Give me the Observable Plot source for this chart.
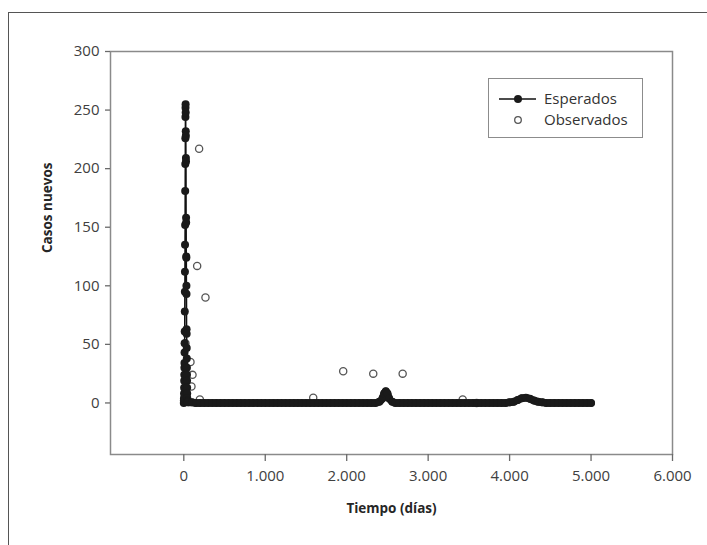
<!DOCTYPE html>
<html>
<head>
<meta charset="utf-8">
<script src="https://cdn.jsdelivr.net/npm/d3@7"></script>
<script src="https://cdn.jsdelivr.net/npm/@observablehq/plot@0.6"></script>
<style>
  html, body { margin: 0; padding: 0; background: white; overflow: hidden; }
  #wrap { position: relative; width: 707px; height: 545px; font-family: "Open Sans", sans-serif; }
  #outer { position: absolute; left: 8px; top: 12px; width: 720px; height: 560px; border-top: 1.5px solid #555; border-left: 1.5px solid #555; pointer-events: none; }
  #legend { position: absolute; left: 488px; top: 78px; width: 155px; height: 60px; border: 1.5px solid #8c8c8c; box-sizing: border-box; background: white; }
</style>
</head>
<body>
<div id="wrap">
  <div id="chart"></div>
  <div id="outer"></div>
  <div id="legend"></div>
</div>
<script>
// Expected cases (model): epidemic spike in the first days
const spikeDays = [0,1,2,3,4,5,6,7,8,9,10,11,12,13,14,15,16,17,18,19,20,21,22,
                   23,24,25,26,27,28,29,30,31,32,33,34,35,36,37,38,39,40,41,42,43,44,45];
const spikeCases = [0,2,4,8,13,19,24,30,34,43,51,61,78,95,112,135,152,181,204,226,244,252,255,
                    248,232,228,209,206,158,154,125,124,100,93,63,59,47,38,30,24,19,13,8,4,2,1];
// Expected cases (model): long tail with two small recurrences
const tailDays = [
  50,100,150,200,250,300,350,400,450,500,
  550,600,650,700,750,800,850,900,950,1000,
  1050,1100,1150,1200,1250,1300,1350,1400,1450,1500,
  1550,1600,1650,1700,1750,1800,1850,1900,1950,2000,
  2050,2100,2150,2200,2250,2300,2350,
  2400,2440,2460,2480,2500,2520,2560,2600,
  2650,2700,2750,2800,2850,2900,2950,3000,3050,3100,
  3150,3200,3250,3300,3350,3400,3450,3500,3550,3600,
  3650,3700,3750,3800,3850,3900,3950,
  4000,4050,4100,4150,4200,4250,4300,4350,4400,
  4450,4500,4550,4600,4650,4700,4750,4800,4850,4900,
  4950,5000
];
const tailCases = [
  0.5,0.5,0,0,0,0,0,0,0,0,
  0,0,0,0,0,0,0,0,0,0,
  0,0,0,0,0,0,0,0,0,0,
  0,0,0,0,0,0,0,0,0,0,
  0,0,0,0,0,0,0,
  1,4,8,10,8,4,1,0,
  0,0,0,0,0,0,0,0,0,0,
  0,0,0,0,0,0,0,0,0,0,
  0,0,0,0,0,0,0,
  0.5,1,2.5,4,4.5,3.5,2,1,0.5,
  0,0,0,0,0,0,0,0,0,0,
  0,0
];
// Observed cases
const obsDays  = [20, 82, 94, 107, 164, 188, 197, 266, 1589, 1957, 2326, 2687, 3424, 3595];
const obsCases = [51, 35, 14, 24, 117, 217, 3, 90, 4.5, 27, 25, 25, 3, 0];
// Axis ticks and labels
const xTicks = [0, 1000, 2000, 3000, 4000, 5000, 6000];
const yTicks = [0, 50, 100, 150, 200, 250, 300];
const xLabel = "Tiempo (días)";
const yLabel = "Casos nuevos";
const seriesNames = ["Esperados", "Observados"];

const spike = spikeDays.map((d, i) => ({day: d, cases: spikeCases[i]}));
const tail = [spike[spike.length - 1]].concat(tailDays.map((d, i) => ({day: d, cases: tailCases[i]})));
const expected = spike.concat(tail.slice(1));
const observed = obsDays.map((d, i) => ({day: d, cases: obsCases[i]}));

const fmt = d3.formatLocale({decimal: ",", thousands: ".", grouping: [3], currency: ["", ""]}).format(",");

const chart = Plot.plot({
  width: 707,
  height: 545,
  marginLeft: 110,
  marginRight: 35,
  marginTop: 51,
  marginBottom: 91,
  style: {background: "transparent", fontFamily: "Open Sans, sans-serif", fontSize: "15px", color: "#404040"},
  x: {domain: [-900, 6000]},
  y: {domain: [-44, 300]},
  marks: [
    Plot.frame({stroke: "#8a8a8a", strokeWidth: 1.5}),
    Plot.axisY({ticks: yTicks, tickSize: 5, tickPadding: 6, label: null, stroke: "#6a6a6a", strokeWidth: 1.3}),
    Plot.axisX({ticks: xTicks, tickFormat: fmt, tickSize: 7, tickPadding: 9, label: null, stroke: "#6a6a6a", strokeWidth: 1.3}),
    Plot.dot(observed, {x: "day", y: "cases", r: 3.6, stroke: "#555", strokeWidth: 1.3, fill: "white"}),
    Plot.line(expected, {x: "day", y: "cases", stroke: "#111", strokeWidth: 1.5}),
    Plot.line(tail, {x: "day", y: "cases", stroke: "#1a1a1a", strokeWidth: 7.6, strokeLinecap: "round", strokeLinejoin: "round", curve: "monotone-x"}),
    Plot.dot(expected, {x: "day", y: "cases", r: 4, fill: "#1a1a1a", stroke: "none"}),
    Plot.text([xLabel], {frameAnchor: "bottom", dy: 58, fontWeight: "bold", fontSize: 13.5, fill: "#262626"}),
    Plot.text([yLabel], {frameAnchor: "left", dx: -63, rotate: -90, fontWeight: "bold", fontSize: 13.5, fill: "#262626"})
  ]
});
document.getElementById("chart").appendChild(chart);

// Legend
const lg = d3.select("#legend").append("svg").attr("width", 152).attr("height", 57)
  .style("font-family", "Open Sans, sans-serif").style("font-size", "15px");
lg.append("line").attr("x1", 10).attr("x2", 47).attr("y1", 20).attr("y2", 20).attr("stroke", "#111").attr("stroke-width", 1.5);
lg.append("circle").attr("cx", 29).attr("cy", 20).attr("r", 4).attr("fill", "#1a1a1a");
lg.append("circle").attr("cx", 29).attr("cy", 41).attr("r", 3.3).attr("fill", "white").attr("stroke", "#555").attr("stroke-width", 1.3);
lg.append("text").attr("x", 55).attr("y", 20).attr("dy", "0.35em").attr("fill", "#333").text(seriesNames[0]);
lg.append("text").attr("x", 55).attr("y", 41).attr("dy", "0.35em").attr("fill", "#333").text(seriesNames[1]);
</script>
</body>
</html>
